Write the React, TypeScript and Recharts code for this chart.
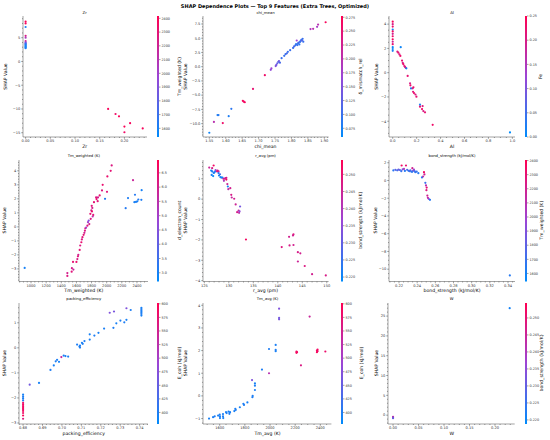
import React from 'react';
import { ScatterChart, Scatter, XAxis, YAxis, ReferenceArea } from 'recharts';

const FONT = '"DejaVu Sans", "Liberation Sans", sans-serif';
const INK = '#333333';

// ---------- data: Zr (colour: Tm_weighted) ----------
const zrX = [0, 0, 0, 0, 0, 0, 0, 0, 0, 0, 0, 0, 0, 0, 0, 0.167, 0.182, 0.189, 0.2115, 0.2, 0.2, 0.237];
const zrY = [8.4, 8.0, 7.25, 5.4, 5.0, 4.3, 4.0, 3.85, 3.7, 3.55, 3.4, 3.25, 3.1, 2.95, 2.8, -10.0, -11.06, -11.55, -13.0, -13.7, -14.9, -14.1];
const zrC = [2400, 2380, 1620, 2250, 2050, 2200, 1950, 1850, 1700, 1650, 1620, 1600, 1580, 1600, 1620, 2380, 2350, 2400, 2380, 2400, 2350, 2380];

// ---------- chi_mean (colour: δ_mismatch_rel) ----------
const chiX = [1.550, 1.564, 1.575, 1.578, 1.591, 1.609, 1.617, 1.652, 1.655, 1.658, 1.683, 1.719, 1.737, 1.739, 1.752, 1.754, 1.757, 1.760, 1.762, 1.765, 1.770, 1.778, 1.782, 1.786, 1.789, 1.796, 1.805, 1.808, 1.812, 1.814, 1.816, 1.818, 1.820, 1.822, 1.824, 1.826, 1.828, 1.830, 1.832, 1.834, 1.836, 1.858, 1.866, 1.878, 1.881, 1.904];
const chiY = [-11.6, -9.7, -8.5, -8.5, -9.9, -8.7, -7.4, -6.0, -6.15, -6.25, -3.9, -1.5, -0.55, -0.3, 0.1, 0.3, 0.6, 0.85, 1.0, 0.7, 1.5, 1.9, 2.2, 2.35, 2.6, 2.9, 3.3, 3.55, 3.75, 3.95, 4.6, 3.8, 4.1, 4.25, 3.9, 4.35, 4.5, 4.7, 4.6, 4.9, 4.4, 6.6, 6.65, 7.0, 7.4, 7.8];
const chiC = [0.07, 0.2, 0.08, 0.085, 0.26, 0.08, 0.09, 0.27, 0.26, 0.27, 0.25, 0.26, 0.16, 0.17, 0.15, 0.14, 0.13, 0.12, 0.14, 0.11, 0.1, 0.1, 0.1, 0.11, 0.1, 0.1, 0.1, 0.11, 0.1, 0.09, 0.17, 0.1, 0.1, 0.11, 0.09, 0.1, 0.1, 0.1, 0.12, 0.1, 0.1, 0.19, 0.2, 0.18, 0.2, 0.27];

// ---------- Al (colour: Fe) ----------
const alX = [0, 0, 0, 0, 0, 0, 0, 0, 0, 0, 0, 0, 0, 0.067, 0.039, 0.047, 0.056, 0.064, 0.078, 0.084, 0.089, 0.097, 0.103, 0.109, 0.114, 0.125, 0.145, 0.148, 0.153, 0.167, 0.173, 0.17, 0.178, 0.19, 0.198, 0.228, 0.228, 0.25, 0.245, 0.256, 0.27, 0.334, 0.98];
const alY = [4.2, 4.0, 3.8, 3.55, 3.4, 3.2, 3.0, 2.75, 2.55, 2.35, 2.1, 1.95, 1.8, 2.1, 1.73, 1.65, 1.5, 1.38, 1.0, 0.8, 0.7, 0.55, 0.47, 0.4, 0.36, -0.27, -0.88, -1.04, -1.3, -1.29, -1.2, -1.57, -1.68, -1.8, -1.98, -2.64, -2.8, -2.75, -3.0, -3.16, -3.27, -4.3, -4.92];
const alC = [0.24, 0.2, 0.23, 0.02, 0.24, 0.19, 0.23, 0.24, 0.19, 0.22, 0.01, 0.01, 0.02, 0.01, 0.2, 0.22, 0.2, 0.23, 0.22, 0.2, 0.23, 0.21, 0.2, 0.22, 0.01, 0.22, 0.2, 0.23, 0.02, 0.2, 0.22, 0.21, 0.23, 0.2, 0.22, 0.02, 0.22, 0.21, 0.23, 0.2, 0.22, 0.23, 0.0];

// ---------- Tm_weighted (colour: d_electron_count) ----------
const tmwX = [916, 1480, 1480, 1537, 1540, 1555, 1560, 1600, 1612, 1620, 1625, 1643, 1650, 1665, 1672, 1680, 1695, 1705, 1712, 1718, 1728, 1745, 1753, 1762, 1770, 1789, 1784, 1797, 1805, 1802, 1810, 1815, 1822, 1832, 1860, 1866, 1881, 1885, 1907, 1938, 1947, 1978, 2004, 2009, 2053, 2066, 2251, 2282, 2348, 2366, 2374, 2387, 2405, 2418, 2458, 2462];
const tmwY = [-2.93, -3.3, -3.5, -3.2, -2.95, -2.5, -3.05, -2.5, -2.3, -2.1, -2.0, -1.65, -1.33, -1.1, -0.9, -0.74, -0.57, -0.43, -0.27, -0.1, -0.05, 0.08, 0.33, 0.45, 0.2, 0.57, 0.93, 1.17, 1.1, 1.5, 1.35, 0.74, 0.85, 1.76, 2.1, 1.98, 1.83, 2.1, 2.24, 2.6, 3.0, 2.0, 2.5, 3.6, 4.0, 4.38, 1.33, 2.05, 3.33, 1.76, 2.29, 1.78, 1.82, 1.95, 1.93, 2.62];
const tmwC = [3.0, 6.0, 6.2, 6.3, 6.0, 6.4, 5.8, 6.5, 6.1, 6.3, 6.0, 6.4, 6.2, 6.5, 6.1, 6.3, 6.4, 6.0, 6.2, 6.5, 4.8, 6.3, 5.0, 4.5, 6.0, 6.2, 6.4, 6.1, 6.5, 6.3, 6.0, 5.5, 6.3, 6.4, 6.2, 6.5, 6.3, 6.0, 6.4, 6.2, 6.5, 3.2, 6.3, 6.5, 6.4, 6.2, 3.2, 3.1, 5.8, 3.0, 3.2, 3.1, 3.0, 3.2, 3.1, 3.0];

// ---------- r_avg (colour: bond_strength) ----------
const ravgX = [126.0, 126.6, 126.9, 126.4, 126.6, 126.9, 126.5, 126.8, 127.0, 127.2, 127.3, 127.6, 127.9, 127.7, 128.0, 128.3, 128.5, 127.9, 128.2, 128.7, 128.9, 129.1, 129.3, 129.5, 129.0, 129.5, 129.7, 129.8, 129.9, 130.3, 130.5, 130.6, 131.1, 131.4, 131.7, 132.0, 132.1, 132.2, 132.3, 133.5, 140.8, 142.3, 142.4, 143.1, 143.2, 143.2, 144.1, 144.1, 144.6, 145.5, 147.0, 149.8];
const ravgY = [1.55, 1.52, 1.65, 1.4, 1.36, 1.29, 1.19, 1.13, 1.3, 1.35, 1.42, 1.36, 1.36, 1.4, 1.16, 1.08, 1.06, 1.28, 1.22, 1.06, 1.0, 1.0, 1.03, 1.05, 0.9, 0.96, 0.74, 0.62, 0.49, 0.54, 0.21, 0.08, 0.02, -0.26, -0.64, -0.56, -0.67, -0.6, -0.36, -1.98, -2.35, -1.85, -2.27, -1.78, -1.73, -2.25, -2.6, -3.06, -2.66, -3.28, -3.68, -3.74];
const ravgC = [0.245, 0.247, 0.252, 0.221, 0.222, 0.22, 0.221, 0.22, 0.223, 0.222, 0.235, 0.247, 0.245, 0.249, 0.221, 0.22, 0.222, 0.223, 0.226, 0.221, 0.247, 0.245, 0.243, 0.247, 0.24, 0.252, 0.245, 0.221, 0.243, 0.246, 0.247, 0.244, 0.246, 0.245, 0.247, 0.244, 0.243, 0.235, 0.232, 0.252, 0.248, 0.246, 0.247, 0.245, 0.248, 0.246, 0.247, 0.245, 0.246, 0.248, 0.246, 0.247];

// ---------- bond_strength (colour: Tm_weighted) ----------
const bondX = [0.2138, 0.216, 0.218, 0.2195, 0.221, 0.2229, 0.224, 0.2255, 0.2277, 0.229, 0.2305, 0.2315, 0.2325, 0.2335, 0.2347, 0.2355, 0.2365, 0.238, 0.2395, 0.2413, 0.2453, 0.2465, 0.2475, 0.248, 0.249, 0.2497, 0.2505, 0.2502, 0.2512, 0.2518, 0.2527, 0.2541, 0.342, 0.2225, 0.2265, 0.2345, 0.2372];
const bondY = [1.13, 1.2, 1.15, 1.22, 1.18, 1.69, 1.25, 1.3, 1.69, 1.2, 1.1, 1.05, 1.15, 1.0, 1.39, 1.1, 1.24, 0.94, 1.0, 0.83, 0.34, 0.45, 0.94, 0.68, -0.26, -0.56, -0.8, -1.09, -1.7, -1.95, -2.07, -2.18, -10.7, 1.05, 1.08, 0.98, 1.05];
const bondC = [1650, 1800, 1700, 1850, 1750, 2350, 1900, 2050, 2300, 1750, 1650, 1700, 1800, 1650, 2200, 1900, 2000, 1650, 1700, 1650, 1650, 2100, 2350, 2200, 1700, 2100, 2300, 2250, 2200, 2150, 2000, 1650, 1650, 1700, 1650, 1680, 1720];

// ---------- packing_efficiency (colour: E_coh) ----------
const packX = [0.68, 0.68, 0.68, 0.68, 0.68, 0.68, 0.68, 0.68, 0.68, 0.68, 0.68, 0.68, 0.68, 0.6834, 0.6882, 0.6941, 0.6958, 0.6968, 0.6975, 0.6985, 0.6997, 0.7009, 0.7018, 0.7032, 0.7078, 0.709, 0.7093, 0.7093, 0.7103, 0.7107, 0.7116, 0.7143, 0.7143, 0.7167, 0.7188, 0.7217, 0.7246, 0.7268, 0.7265, 0.728, 0.7301, 0.7321, 0.7332, 0.7332, 0.7354, 0.7409, 0.7409, 0.7409, 0.7409, 0.7409, 0.7409, 0.7409];
const packY = [-1.87, -1.95, -2.02, -2.1, -2.2, -2.27, -2.33, -2.4, -2.45, -2.52, -2.6, -2.7, -2.83, -1.47, -1.4, -0.88, -0.7, -0.54, -0.48, -0.56, -0.37, -0.31, -0.33, -0.35, 0.13, 0.05, 0.09, 0.01, 0.2, 0.16, 0.27, 0.54, 0.33, 0.49, 0.6, 0.77, 1.4, 1.45, 0.8, 0.98, 1.09, 1.02, 1.12, 1.58, 1.51, 1.6, 1.55, 1.5, 1.45, 1.4, 1.35, 1.29];
const packC = [395, 400, 398, 405, 580, 590, 585, 595, 580, 590, 585, 595, 560, 460, 395, 400, 395, 398, 400, 395, 540, 400, 395, 398, 400, 395, 398, 400, 396, 398, 400, 395, 398, 400, 396, 398, 470, 465, 400, 395, 398, 400, 396, 470, 400, 395, 398, 400, 396, 398, 400, 395];

// ---------- Tm_avg (colour: E_coh) ----------
const tmaX = [1515, 1547, 1560, 1587, 1600, 1602, 1602, 1626, 1626, 1628, 1650, 1655, 1670, 1682, 1677, 1716, 1724, 1727, 1760, 1788, 1793, 1820, 1860, 1862, 1857, 1880, 1880, 1880, 1936, 1992, 1992, 2045, 2045, 2045, 2072, 2072, 2072, 2210, 2210, 2215, 2246, 2315, 2373, 2373, 2378, 2378, 2440];
const tmaY = [-1.0, -0.94, -0.9, -0.87, -0.82, -0.9, -0.98, -0.8, -0.9, -0.98, -0.72, -0.76, -0.69, -0.72, -0.79, -0.67, -0.57, -0.62, -0.5, -0.35, -0.4, -0.29, -0.06, 0.0, 0.7, 0.26, 0.45, 0.55, 1.16, 1.0, 2.07, 2.25, 2.03, 1.97, 3.85, 3.44, 3.38, 1.95, 1.9, 1.93, 1.35, 3.5, 2.0, 1.93, 1.97, 2.04, 1.96];
const tmaC = [395, 398, 400, 396, 398, 400, 395, 398, 400, 396, 398, 400, 395, 398, 400, 396, 398, 400, 395, 398, 400, 396, 398, 400, 470, 398, 400, 395, 400, 520, 400, 398, 400, 396, 470, 460, 465, 590, 595, 585, 560, 540, 590, 595, 585, 590, 580];

// ---------- W (colour: bond_strength) ----------
const wX = [0, 0, 0, 0, 0.2288];
const wY = [-0.45, -0.5, -0.6, -0.75, 27.0];
const wC = [0.25, 0.235, 0.245, 0.23, 0.221];

// ---------- tick labels ----------
const zrXT = [0, 0.05, 0.1, 0.15, 0.2];
const zrYT = [-15, -10, -5, 0, 5];
const tmwCT = [1600, 1700, 1800, 1900, 2000, 2100, 2200, 2300, 2400];
const chiXT = [1.55, 1.6, 1.65, 1.7, 1.75, 1.8, 1.85, 1.9];
const chiYT = [-10, -7.5, -5, -2.5, 0, 2.5, 5, 7.5];
const mismCT = [0.075, 0.1, 0.125, 0.15, 0.175, 0.2, 0.225, 0.25, 0.275];
const alXT = [0, 0.2, 0.4, 0.6, 0.8, 1.0];
const alYT = [-4, -2, 0, 2, 4];
const feCT = [0, 0.05, 0.1, 0.15, 0.2, 0.25];
const tmwXT = [1000, 1200, 1400, 1600, 1800, 2000, 2200, 2400];
const tmwYT = [-3, -2, -1, 0, 1, 2, 3, 4];
const decCT = [3.0, 3.5, 4.0, 4.5, 5.0, 5.5, 6.0, 6.5];
const ravgXT = [125, 130, 135, 140, 145, 150];
const ravgYT = [-4, -3, -2, -1, 0, 1];
const bondCT = [0.22, 0.225, 0.23, 0.235, 0.24, 0.245, 0.25];
const bondXT = [0.22, 0.24, 0.26, 0.28, 0.3, 0.32, 0.34];
const bondYT = [-10, -8, -6, -4, -2, 0, 2];
const packXT = [0.68, 0.69, 0.7, 0.71, 0.72, 0.73, 0.74];
const packYT = [-3, -2, -1, 0, 1];
const ecohCT = [400, 425, 450, 475, 500, 525, 550, 575, 600];
const tmaXT = [1600, 1800, 2000, 2200, 2400];
const tmaYT = [-1, 0, 1, 2, 3, 4];
const wXT = [0, 0.05, 0.1, 0.15, 0.2];
const wYT = [0, 5, 10, 15, 20, 25];

// ---------- colour map (shap red_blue) ----------
const STOPS: [number, number[]][] = [
  [0, [0, 139, 251]],
  [0.5, [156, 69, 213]],
  [1, [255, 0, 82]],
];
function mapColor(t: number): string {
  const u = Math.max(0, Math.min(1, t));
  for (let i = 0; i < STOPS.length - 1; i++) {
    const [a, ca] = STOPS[i];
    const [b, cb] = STOPS[i + 1];
    if (u <= b) {
      const f = (u - a) / (b - a);
      const c = ca.map((v, k) => Math.round(v + (cb[k] - v) * f));
      return `rgb(${c[0]},${c[1]},${c[2]})`;
    }
  }
  return 'rgb(255,0,82)';
}
const rgbHex = (c: number[]) => `rgb(${c[0]},${c[1]},${c[2]})`;

function withMinor(major: number[], step: number, domain: [number, number]): number[] {
  const out = [...major];
  const s = Math.ceil(domain[0] / step - 1e-9);
  const e = Math.floor(domain[1] / step + 1e-9);
  for (let k = s; k <= e; k++) {
    const v = parseFloat((k * step).toFixed(6));
    if (!major.some((m) => Math.abs(m - v) < step * 1e-3)) out.push(v);
  }
  return out.filter((v) => v >= domain[0] && v <= domain[1]).sort((a, b) => a - b);
}
const isMajor = (majors: number[], v: number) =>
  majors.some((m) => Math.abs(m - v) < 1e-7 * Math.max(1, Math.abs(m)));
const fmtNum = (d: number) => (v: number) => {
  const s = Math.abs(v).toFixed(d);
  return (v < 0 && parseFloat(s) !== 0 ? '\u2212' : '') + s;
};

type Box = { l: number; r: number; t: number; b: number; cb: number; ylx: number; clx: number };
type Cfg = {
  title: string; xlabel: string; clabel: string; box: Box;
  xDomain: [number, number]; yDomain: [number, number];
  xMajor: number[]; yMajor: number[]; xStep: number; yStep: number; xDec: number; yDec: number;
  cDomain: [number, number]; cTicks: number[]; cDec: number;
  xs: number[]; ys: number[]; cs: number[];
};

const ROW = [
  { t: 16, b: 137 },
  { t: 159.5, b: 281 },
  { t: 302.5, b: 423.5 },
];

const PANELS: Cfg[] = [
  {
    title: 'Zr', xlabel: 'Zr', clabel: 'Tm_weighted (K)',
    box: { l: 22.7, r: 146.7, ...ROW[0], cb: 156.7, ylx: 5, clx: 179.3 },
    xDomain: [-0.0053, 0.2457], yDomain: [-15.9, 9.57], xMajor: zrXT, yMajor: zrYT, xStep: 0.01, yStep: 1, xDec: 2, yDec: 0,
    cDomain: [1537, 2417], cTicks: tmwCT, cDec: 0, xs: zrX, ys: zrY, cs: zrC,
  },
  {
    title: 'chi_mean', xlabel: 'chi_mean', clabel: 'δ_mismatch_rel',
    box: { l: 202.7, r: 328.3, ...ROW[0], cb: 340.7, ylx: 185.6, clx: 360 },
    xDomain: [1.5308, 1.913], yDomain: [-12.35, 8.9], xMajor: chiXT, yMajor: chiYT, xStep: 0.01, yStep: 0.5, xDec: 2, yDec: 1,
    cDomain: [0.0593, 0.2773], cTicks: mismCT, cDec: 3, xs: chiX, ys: chiY, cs: chiC,
  },
  {
    title: 'Al', xlabel: 'Al', clabel: 'Fe',
    box: { l: 389, r: 515, ...ROW[0], cb: 525, ylx: 376, clx: 540 },
    xDomain: [-0.031, 1.022], yDomain: [-5.3, 4.67], xMajor: alXT, yMajor: alYT, xStep: 0.05, yStep: 0.5, xDec: 1, yDec: 0,
    cDomain: [0, 0.25], cTicks: feCT, cDec: 2, xs: alX, ys: alY, cs: alC,
  },
  {
    title: 'Tm_weighted (K)', xlabel: 'Tm_weighted (K)', clabel: 'd_electron_count',
    box: { l: 19.3, r: 148.3, ...ROW[1], cb: 156.7, ylx: 4, clx: 179.8 },
    xDomain: [841, 2546], yDomain: [-3.9, 4.77], xMajor: tmwXT, yMajor: tmwYT, xStep: 50, yStep: 0.2, xDec: 0, yDec: 0,
    cDomain: [2.695, 6.95], cTicks: decCT, cDec: 1, xs: tmwX, ys: tmwY, cs: tmwC,
  },
  {
    title: 'r_avg (pm)', xlabel: 'r_avg (pm)', clabel: 'bond_strength (kJ/mol/K)',
    box: { l: 202.7, r: 328.3, ...ROW[1], cb: 340.7, ylx: 185.6, clx: 360 },
    xDomain: [124.73, 150.37], yDomain: [-4.04, 1.92], xMajor: ravgXT, yMajor: ravgYT, xStep: 1, yStep: 0.2, xDec: 0, yDec: 0,
    cDomain: [0.2187, 0.2542], cTicks: bondCT, cDec: 3, xs: ravgX, ys: ravgY, cs: ravgC,
  },
  {
    title: 'bond_strength (kJ/mol/K)', xlabel: 'bond_strength (kJ/mol/K)', clabel: 'Tm_weighted (K)',
    box: { l: 389, r: 515, ...ROW[1], cb: 525, ylx: 375, clx: 541 },
    xDomain: [0.209, 0.3477], yDomain: [-11.39, 2.31], xMajor: bondXT, yMajor: bondYT, xStep: 0.005, yStep: 0.5, xDec: 2, yDec: 0,
    cDomain: [1543, 2404], cTicks: tmwCT, cDec: 0, xs: bondX, ys: bondY, cs: bondC,
  },
  {
    title: 'packing_efficiency', xlabel: 'packing_efficiency', clabel: 'E_coh (kJ/mol)',
    box: { l: 19.3, r: 148.3, ...ROW[2], cb: 156.7, ylx: 4, clx: 179.3 },
    xDomain: [0.6779, 0.7443], yDomain: [-3.04, 1.79], xMajor: packXT, yMajor: packYT, xStep: 0.002, yStep: 0.2, xDec: 2, yDec: 0,
    cDomain: [378.8, 601.5], cTicks: ecohCT, cDec: 0, xs: packX, ys: packY, cs: packC,
  },
  {
    title: 'Tm_avg (K)', xlabel: 'Tm_avg (K)', clabel: 'E_coh (kJ/mol)',
    box: { l: 203.3, r: 331.7, ...ROW[2], cb: 340.7, ylx: 185.6, clx: 361.5 },
    xDomain: [1467, 2488], yDomain: [-1.24, 4.1], xMajor: tmaXT, yMajor: tmaYT, xStep: 50, yStep: 0.2, xDec: 0, yDec: 0,
    cDomain: [378.8, 601.5], cTicks: ecohCT, cDec: 0, xs: tmaX, ys: tmaY, cs: tmaC,
  },
  {
    title: 'W', xlabel: 'W', clabel: 'bond_strength (kJ/mol/K)',
    box: { l: 388.3, r: 515, ...ROW[2], cb: 525, ylx: 376, clx: 541.5 },
    xDomain: [-0.0099, 0.2386], yDomain: [-2.23, 28.3], xMajor: wXT, yMajor: wYT, xStep: 0.01, yStep: 1, xDec: 2, yDec: 0,
    cDomain: [0.2188, 0.2544], cTicks: bondCT, cDec: 3, xs: wX, ys: wY, cs: wC,
  },
];

const TICK_FS = 3.6;
const LABEL_FS = 4.6;
const SW = 0.45;

function Panel({ cfg }: { cfg: Cfg }) {
  const { box, xDomain, yDomain } = cfg;
  const AW = 40, AH = 20, MT = 4, MR = 8;
  const w = box.r - box.l;
  const h = box.b - box.t;
  const data = cfg.xs.map((x, i) => ({ x, y: cfg.ys[i], c: cfg.cs[i] }));
  const xTicks = withMinor(cfg.xMajor, cfg.xStep, xDomain);
  const yTicks = withMinor(cfg.yMajor, cfg.yStep, yDomain);
  const fx = fmtNum(cfg.xDec);
  const fy = fmtNum(cfg.yDec);
  const [c0, c1] = cfg.cDomain;
  return (
    <div style={{ position: 'absolute', left: box.l - AW, top: box.t - MT }}>
      <ScatterChart width={w + AW + MR} height={h + MT + AH} margin={{ top: MT, right: MR, bottom: 0, left: 0 }}>
        <XAxis
          type="number" dataKey="x" domain={xDomain} allowDataOverflow ticks={xTicks} interval={0}
          height={AH} tickSize={0} tickMargin={0} tickLine={false}
          axisLine={{ stroke: INK, strokeWidth: SW }}
          tick={(p: any) => {
            const v = p.payload.value;
            const maj = isMajor(cfg.xMajor, v);
            return (
              <g>
                <line x1={p.x} x2={p.x} y1={p.y} y2={p.y + (maj ? 1.8 : 1)} stroke={INK} strokeWidth={SW} />
                {maj && (
                  <text x={p.x} y={p.y + 5.4} textAnchor="middle" fontSize={TICK_FS} fill={INK} fontFamily={FONT}>
                    {fx(v)}
                  </text>
                )}
              </g>
            );
          }}
        />
        <YAxis
          type="number" dataKey="y" domain={yDomain} allowDataOverflow ticks={yTicks} interval={0}
          width={AW} tickSize={0} tickMargin={0} tickLine={false}
          axisLine={{ stroke: INK, strokeWidth: SW }}
          tick={(p: any) => {
            const v = p.payload.value;
            const maj = isMajor(cfg.yMajor, v);
            return (
              <g>
                <line x1={p.x} x2={p.x - (maj ? 1.8 : 1)} y1={p.y} y2={p.y} stroke={INK} strokeWidth={SW} />
                {maj && (
                  <text x={p.x - 2.6} y={p.y} dy="0.36em" textAnchor="end" fontSize={TICK_FS} fill={INK} fontFamily={FONT}>
                    {fy(v)}
                  </text>
                )}
              </g>
            );
          }}
        />
        <Scatter
          data={data}
          isAnimationActive={false}
          shape={(p: any) => (
            <circle cx={p.cx} cy={p.cy} r={1.1} fill={mapColor((p.payload.c - c0) / (c1 - c0))} />
          )}
        />
      </ScatterChart>
    </div>
  );
}

function ColorBar({ cfg, id }: { cfg: Cfg; id: string }) {
  const { box } = cfg;
  const BW = 2, AW = 24, M = 3;
  const h = box.b - box.t;
  const fc = fmtNum(cfg.cDec);
  const [c0, c1] = cfg.cDomain;
  return (
    <div style={{ position: 'absolute', left: box.cb, top: box.t - M }}>
      <ScatterChart width={BW + AW} height={h + 2 * M} margin={{ top: M, right: 0, bottom: M, left: 0 }}>
        <defs>
          <linearGradient id={id} x1="0" y1="1" x2="0" y2="0">
            {STOPS.map(([o, c]) => (
              <stop key={o} offset={o} stopColor={rgbHex(c)} />
            ))}
          </linearGradient>
        </defs>
        <XAxis type="number" dataKey="x" domain={[0, 1]} hide />
        <YAxis
          type="number" dataKey="y" orientation="right" domain={cfg.cDomain} allowDataOverflow
          ticks={cfg.cTicks} interval={0} width={AW} tickSize={0} tickMargin={0} tickLine={false} axisLine={false}
          tick={(p: any) => (
            <g>
              <line x1={p.x} x2={p.x + 1.5} y1={p.y} y2={p.y} stroke={INK} strokeWidth={SW} />
              <text x={p.x + 2.4} y={p.y} dy="0.36em" textAnchor="start" fontSize={3.4} fill={INK} fontFamily={FONT}>
                {fc(p.payload.value)}
              </text>
            </g>
          )}
        />
        <ReferenceArea x1={0} x2={1} y1={c0} y2={c1} fill={`url(#${id})`} fillOpacity={1} stroke="none" />
        <Scatter data={[{ x: 0.5, y: c0 }, { x: 0.5, y: c1 }]} isAnimationActive={false} shape={() => <g />} />
      </ScatterChart>
    </div>
  );
}

function Labels() {
  return (
    <svg width={550} height={440} style={{ position: 'absolute', left: 0, top: 0, pointerEvents: 'none' }}>
      <text x={275} y={6} dominantBaseline="central" textAnchor="middle" fontSize={5} fontWeight="bold" fill="#000" fontFamily={FONT}>
        SHAP Dependence Plots — Top 9 Features (Extra Trees, Optimized)
      </text>
      {PANELS.map((p, i) => {
        const { box } = p;
        const cx = (box.l + box.r) / 2;
        const cy = (box.t + box.b) / 2;
        return (
          <g key={i} fontFamily={FONT} fill="#000">
            <text x={cx} y={box.t - 3.7} dominantBaseline="central" textAnchor="middle" fontSize={3.8}>{p.title}</text>
            <text x={cx} y={box.b + 9.7} dominantBaseline="central" textAnchor="middle" fontSize={LABEL_FS}>{p.xlabel}</text>
            <text x={box.ylx} y={cy} dominantBaseline="central" textAnchor="middle" fontSize={LABEL_FS} transform={`rotate(-90 ${box.ylx} ${cy})`}>SHAP Value</text>
            <text x={box.clx} y={cy} dominantBaseline="central" textAnchor="middle" fontSize={LABEL_FS} transform={`rotate(-90 ${box.clx} ${cy})`}>{p.clabel}</text>
          </g>
        );
      })}
    </svg>
  );
}

export default function App() {
  return (
    <div style={{ position: 'absolute', left: 0, top: 0, width: 550, height: 440, background: '#fff', overflow: 'hidden' }}>
      {PANELS.map((p, i) => (
        <Panel key={`p${i}`} cfg={p} />
      ))}
      {PANELS.map((p, i) => (
        <ColorBar key={`c${i}`} cfg={p} id={`cbgrad${i}`} />
      ))}
      <Labels />
    </div>
  );
}
